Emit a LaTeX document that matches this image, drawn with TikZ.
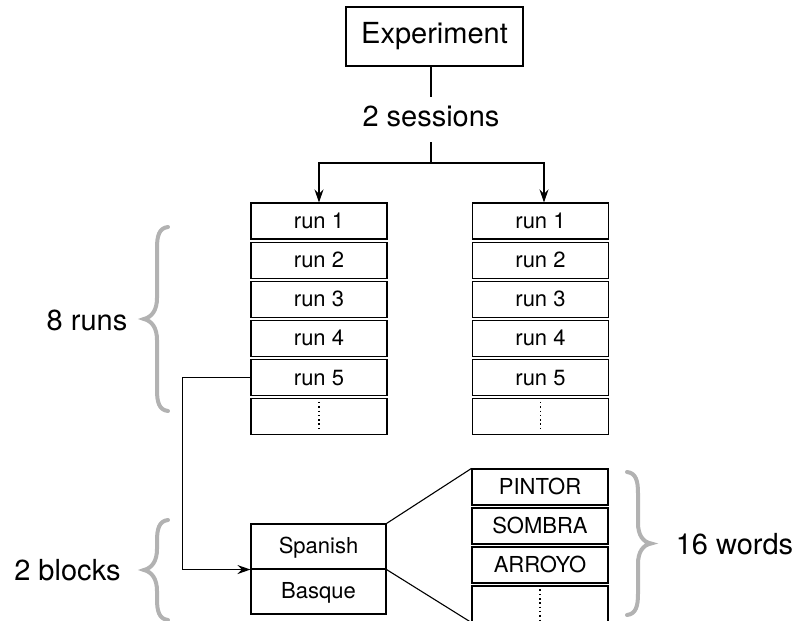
\documentclass[tikz,border=0pt]{standalone}
\usepackage{fontspec}
\setmainfont{TeX Gyre Heros}
\usetikzlibrary{arrows.meta}
\begin{document}
\begin{tikzpicture}[x=0.5pt,y=-0.5pt,
  line width=0.55pt,
  bigtext/.style={font=\fontsize{14.5}{17}\selectfont, inner sep=0pt},
  cell/.style={draw, minimum width=68pt, minimum height=18pt, inner sep=0pt,
    font=\fontsize{11}{13}\selectfont, text height=0.72em, text depth=0pt},
  blockcell/.style={cell, minimum width=67.5pt, minimum height=22.5pt},
  arr/.style={-{Stealth[length=6.5pt,width=4.5pt,inset=2.2pt]}},
  gbrace/.style={draw=black!30, line width=2pt, line cap=round},
  vdots/.style={dash pattern=on 0.75pt off 1.4pt, line width=0.9pt}]
\useasboundingbox (0,0) rectangle (800,621);
\clip (0,0) rectangle (800,621);

% top
\node[draw, minimum width=88.5pt, minimum height=29.5pt, inner sep=0pt,
  font=\fontsize{14.5}{17}\selectfont, text height=0.72em, text depth=0pt]
  (exp) at (434.5,36.5) {Experiment};
\node[bigtext, text height=0.72em, text depth=0pt, inner ysep=7.5pt] (sess) at (431,119.5) {2 sessions};
\coordinate (split) at (431,163);
\draw (exp.south -| sess.north) -- (sess.north);
\draw (sess.south) -- (split);

% left run stack
\node[cell] (L1) at (319,221) {run 1};
\node[cell] (L2) at (319,260.2) {run 2};
\node[cell] (L3) at (319,299.4) {run 3};
\node[cell] (L4) at (319,338.6) {run 4};
\node[cell] (L5) at (319,377.8) {run 5};
\node[cell] (L6) at (319,416.5) {};
\draw[vdots] ([yshift=-2pt]L6.north) -- ([yshift=2pt]L6.south);

% right run stack
\node[cell] (R1) at (540.5,221) {run 1};
\node[cell] (R2) at (540.5,260.2) {run 2};
\node[cell] (R3) at (540.5,299.4) {run 3};
\node[cell] (R4) at (540.5,338.6) {run 4};
\node[cell] (R5) at (540.5,377.8) {run 5};
\node[cell] (R6) at (540.5,416.5) {};
\draw[vdots] ([yshift=-2pt]R6.north) -- ([yshift=2pt]R6.south);

\draw[arr] (split) -| (L1.north);
\draw[arr] (split) -| ([xshift=1.75pt]R1.north);

% blocks
\node[blockcell] (sp) at (318.5,546.5) {Spanish};
\node[blockcell] (bq) at (318.5,591.5) {Basque};
\draw[arr] (L5.west) -- ++(-68,0) |- (sp.south west);

% words
\node[cell] (W1) at (540,487) {PINTOR};
\node[cell] (W2) at (540,526) {SOMBRA};
\node[cell] (W3) at (540,565) {ARROYO};
\node[cell] (W4) at (540,604) {};
\draw[vdots] ([yshift=-2pt]W4.north) -- ([yshift=0pt]W4.south);
\draw (sp.north east) -- (W1.north west);
\draw (sp.south east) -- (W4.south west);

% braces
\draw[gbrace] (168,227) .. controls (159,228) and (157,236) .. (157,248) -- (157,298)
  .. controls (157,310) and (152,317) .. (144,319)
  .. controls (152,321) and (157,328) .. (157,340) -- (157,390)
  .. controls (157,402) and (159,410) .. (168,411);
\draw[gbrace] (168,520) .. controls (159,521) and (157,529) .. (157,541) -- (157,549)
  .. controls (157,561) and (152,568) .. (144,570)
  .. controls (152,572) and (157,579) .. (157,591) -- (157,599)
  .. controls (157,611) and (159,619) .. (168,620);
\draw[gbrace] (627,472) .. controls (636,473) and (638,481) .. (638,493) -- (638,523)
  .. controls (638,535) and (643,542) .. (651,543.5)
  .. controls (643,545) and (638,552) .. (638,564) -- (638,594)
  .. controls (638,606) and (636,614) .. (627,615);

% labels
\node[bigtext, anchor=base] (runs) at (87,330) {8 runs};
\node[bigtext, anchor=base] (blocks) at (67.5,580) {2 blocks};
\node[bigtext, anchor=base] (words) at (734.5,554) {16 words};
\end{tikzpicture}
\end{document}
